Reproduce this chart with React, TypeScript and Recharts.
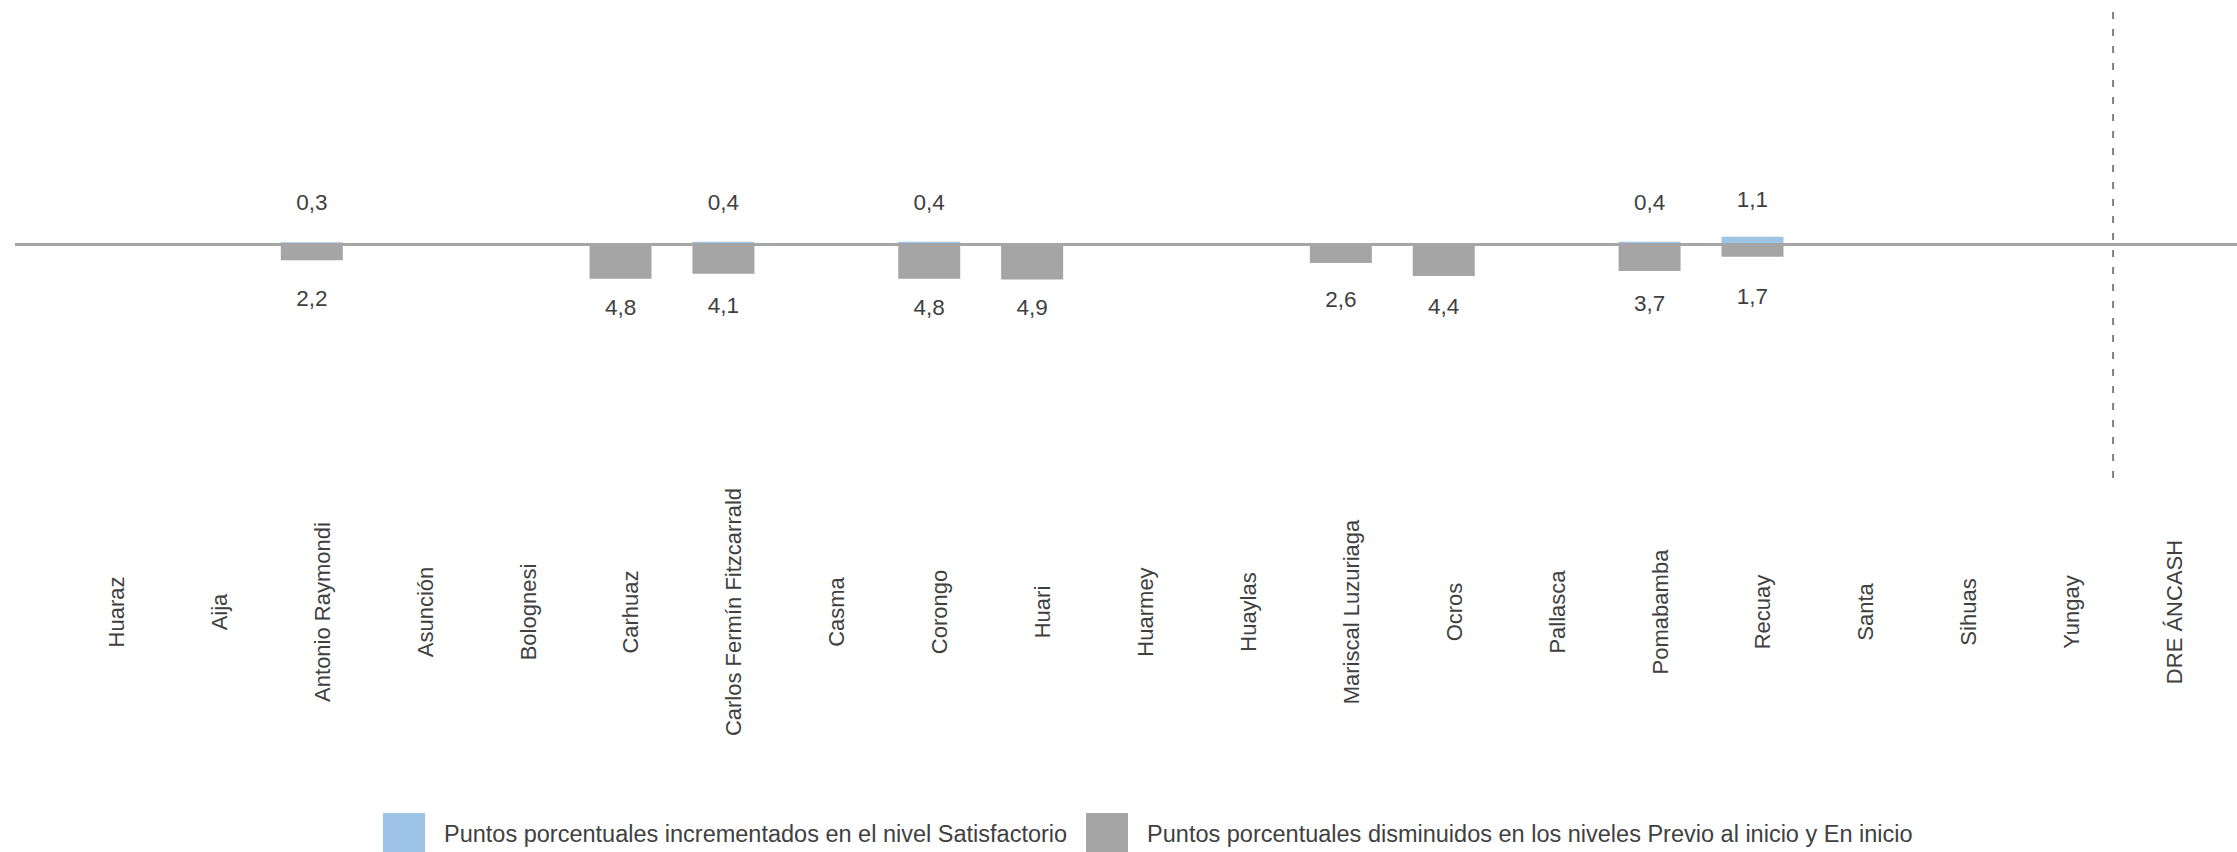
import React from 'react';
import { BarChart, Bar, XAxis, YAxis, ReferenceLine, LabelList, Legend } from 'recharts';

const categories: string[] = [
  'Huaraz', 'Aija', 'Antonio Raymondi', 'Asunción', 'Bolognesi', 'Carhuaz',
  'Carlos Fermín Fitzcarrald', 'Casma', 'Corongo', 'Huari', 'Huarmey', 'Huaylas',
  'Mariscal Luzuriaga', 'Ocros', 'Pallasca', 'Pomabamba', 'Recuay', 'Santa',
  'Sihuas', 'Yungay', 'DRE ÁNCASH',
];

// Percentage points increased in "Satisfactorio"
const increasedSatisfactorio: number[] = [
  0, 0, 0.3, 0, 0, 0, 0.4, 0, 0.4, 0, 0, 0, 0, 0, 0, 0.4, 1.1, 0, 0, 0, 0,
];

// Percentage points decreased in "Previo al inicio" and "En inicio" (drawn below zero)
const decreasedPrevioEnInicio: number[] = [
  0, 0, -2.2, 0, 0, -4.8, -4.1, 0, -4.8, -4.9, 0, 0, -2.6, -4.4, 0, -3.7, -1.7, 0, 0, 0, 0,
];

const seriesNames: string[] = [
  'Puntos porcentuales incrementados en el nivel Satisfactorio',
  'Puntos porcentuales disminuidos en los niveles Previo al inicio y En inicio',
];

const seriesColors: string[] = ['#9DC3E6', '#A5A5A5'];

const data = categories.map((name, i) => ({
  name,
  inc: increasedSatisfactorio[i],
  dec: decreasedPrevioEnInicio[i],
}));

const FONT = "'Liberation Sans', Arial, sans-serif";
const TEXT = '#404040';

const fmt = (v: number) => Math.abs(v).toFixed(1).replace('.', ',');

const getBox = (p: any) => {
  const vb = p.viewBox || {};
  return {
    x: Number(p.x ?? vb.x),
    y: Number(p.y ?? vb.y),
    width: Number(p.width ?? vb.width),
    height: Number(p.height ?? vb.height),
  };
};

const makeLabel = (shift: number) => (props: any) => {
  const { value } = props;
  if (!value) return null;
  const b = getBox(props);
  const cx = b.x + b.width / 2;
  const cy = b.y + b.height / 2 + shift;
  return (
    <text
      x={cx}
      y={cy}
      textAnchor="middle"
      dominantBaseline="central"
      fontSize={22.5}
      fontFamily={FONT}
      fill={TEXT}
    >
      {fmt(Number(value))}
    </text>
  );
};

const CategoryTick = (props: any) => {
  const { x, y, payload } = props;
  return (
    <text
      transform={`translate(${x + 10}, ${y + 126}) rotate(-90)`}
      textAnchor="middle"
      dominantBaseline="central"
      fontSize={22}
      fontFamily={FONT}
      fill={TEXT}
    >
      {payload.value}
    </text>
  );
};

const renderLegend = () => (
  <div style={{ display: 'flex', alignItems: 'center', height: 42, fontFamily: FONT, fontSize: 23.5, color: TEXT, whiteSpace: 'nowrap' }}>
    {seriesNames.map((n, i) => (
      <div key={n} style={{ display: 'flex', alignItems: 'center', marginRight: i === 0 ? 19 : 0 }}>
        <div style={{ width: 42, height: 42, background: seriesColors[i], marginRight: 19 }} />
        <span>{n}</span>
      </div>
    ))}
  </div>
);

export default function App() {
  return (
    <div style={{ position: 'absolute', left: 0, top: 0, width: 2237, height: 852, background: '#fff', overflow: 'hidden' }}>
      <BarChart
        width={2237}
        height={852}
        data={data}
        margin={{ top: 11, right: 0, left: 15, bottom: 344 }}
        stackOffset="sign"
        barCategoryGap="40%"
      >
        <XAxis
          dataKey="name"
          axisLine={false}
          tickLine={false}
          interval={0}
          height={30}
          padding={{ left: 40, right: 21 }}
          tick={<CategoryTick />}
        />
        <YAxis hide domain={[-32.7, 32.7]} allowDataOverflow />
        <Bar dataKey="inc" stackId="s" fill={seriesColors[0]} barSize={62} isAnimationActive={false}>
          <LabelList dataKey="inc" content={makeLabel(-41)} />
        </Bar>
        <Bar dataKey="dec" stackId="s" fill={seriesColors[1]} barSize={62} isAnimationActive={false}>
          <LabelList dataKey="dec" content={makeLabel(46)} />
        </Bar>
        <ReferenceLine y={0} stroke="#A6A6A6" strokeWidth={3} />
        <ReferenceLine x="DRE ÁNCASH" position="start" stroke="#7F7F7F" strokeWidth={2} strokeDasharray="7 10" />
        <Legend
          layout="horizontal"
          verticalAlign="middle"
          align="center"
          wrapperStyle={{ left: 383, top: 813, width: 'auto' }}
          content={renderLegend}
        />
      </BarChart>
    </div>
  );
}
